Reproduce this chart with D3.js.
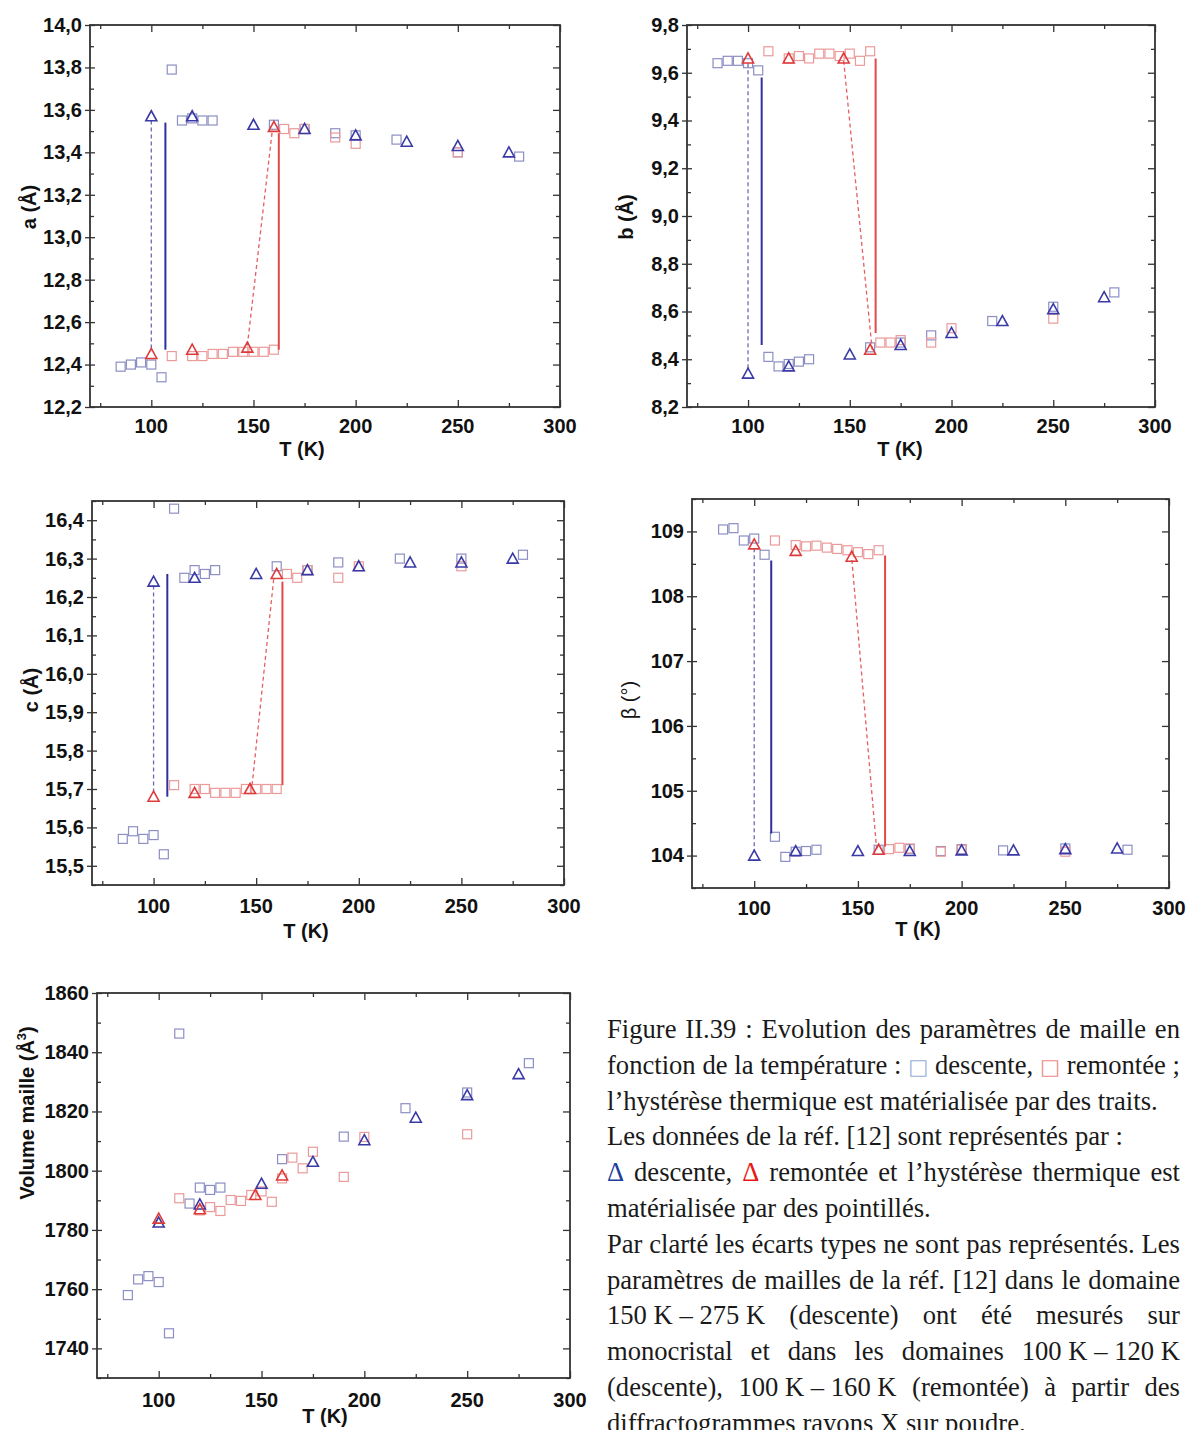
<!DOCTYPE html>
<html><head><meta charset="utf-8">
<script src="https://cdn.jsdelivr.net/npm/d3@7"></script>
<style>body{margin:0;background:#fff}svg{display:block}</style>
</head><body>
<svg id="fig" width="1190" height="1430"></svg>
<script>
// ---------- data ----------
const T_domain = [70, 300];
const xMajorTicks = [100, 150, 200, 250, 300];
const xMinorTicks = [75, 125, 175, 225, 275];

// a (Å)
const a_sq_desc = [[85,12.39],[90,12.40],[95,12.41],[100,12.40],[105,12.34],[110,13.79],[115,13.55],[120,13.56],[125,13.55],[130,13.55],[160,13.53],[175,13.51],[190,13.49],[200,13.48],[220,13.46],[250,13.40],[280,13.38]];
const a_sq_rem  = [[110,12.44],[120,12.44],[125,12.44],[130,12.45],[135,12.45],[140,12.46],[145,12.46],[150,12.46],[155,12.46],[160,12.47],[165,13.51],[170,13.49],[175,13.51],[190,13.47],[200,13.44],[250,13.40]];
const a_tri_desc = [[100,13.57],[120,13.57],[150,13.53],[175,13.51],[200,13.48],[225,13.45],[250,13.43],[275,13.40]];
const a_tri_rem  = [[100,12.45],[120,12.47],[147,12.48],[160,13.52]];
const a_hyst = {blueSolid:[[106.9,13.54],[106.9,12.47]], blueDash:[[100,13.55],[100,12.46]], redSolid:[[162.4,13.49],[162.4,12.47]], redDash:[[147,12.49],[159.3,13.51]]};

// b (Å)
const b_sq_desc = [[85,9.64],[90,9.65],[95,9.65],[100,9.64],[105,9.61],[110,8.41],[115,8.37],[120,8.38],[125,8.39],[130,8.40],[160,8.45],[175,8.47],[190,8.50],[220,8.56],[250,8.62],[280,8.68]];
const b_sq_rem  = [[110,9.69],[120,9.66],[125,9.67],[130,9.66],[135,9.68],[140,9.68],[145,9.67],[150,9.68],[155,9.65],[160,9.69],[165,8.47],[170,8.47],[175,8.48],[190,8.47],[200,8.53],[250,8.57]];
const b_tri_desc = [[100,8.34],[120,8.37],[150,8.42],[175,8.46],[200,8.51],[225,8.56],[250,8.61],[275,8.66]];
const b_tri_rem  = [[100,9.66],[120,9.66],[147,9.66],[160,8.44]];
const b_hyst = {blueSolid:[[106.7,9.58],[106.7,8.46]], blueDash:[[100,9.64],[100,8.35]], redSolid:[[162.7,9.66],[162.7,8.51]], redDash:[[147,9.65],[161,8.44]]};

// c (Å)
const c_sq_desc = [[85,15.57],[90,15.59],[95,15.57],[100,15.58],[105,15.53],[110,16.43],[115,16.25],[120,16.27],[125,16.26],[130,16.27],[160,16.28],[175,16.27],[190,16.29],[220,16.30],[250,16.30],[280,16.31]];
const c_sq_rem  = [[110,15.71],[120,15.70],[125,15.70],[130,15.69],[135,15.69],[140,15.69],[145,15.70],[150,15.70],[155,15.70],[160,15.70],[165,16.26],[170,16.25],[175,16.27],[190,16.25],[200,16.28],[250,16.28]];
const c_tri_desc = [[100,16.24],[120,16.25],[150,16.26],[175,16.27],[200,16.28],[225,16.29],[250,16.29],[275,16.30]];
const c_tri_rem  = [[100,15.68],[120,15.69],[147,15.70],[160,16.26]];
const c_hyst = {blueSolid:[[106.7,16.26],[106.7,15.68]], blueDash:[[100,16.23],[100,15.69]], redSolid:[[162.8,16.24],[162.8,15.71]], redDash:[[148,15.71],[158.6,16.25]]};

// beta (°)
const be_sq_desc = [[85,109.03],[90,109.05],[95,108.86],[100,108.89],[105,108.64],[110,104.29],[115,103.98],[120,104.06],[125,104.07],[130,104.09],[160,104.09],[175,104.10],[190,104.07],[200,104.10],[220,104.08],[250,104.11],[280,104.09]];
const be_sq_rem  = [[110,108.86],[120,108.79],[125,108.77],[130,108.78],[135,108.75],[140,108.73],[145,108.71],[150,108.68],[155,108.65],[160,108.71],[165,104.10],[170,104.12],[175,104.11],[190,104.06],[200,104.09],[250,104.06]];
const be_tri_desc = [[100,104.00],[120,104.07],[150,104.07],[175,104.07],[200,104.08],[225,104.08],[250,104.10],[275,104.11]];
const be_tri_rem  = [[100,108.80],[120,108.70],[147,108.61],[160,104.09]];
const be_hyst = {blueSolid:[[108.2,108.55],[108.2,104.34]], blueDash:[[100,108.74],[100,104.05]], redSolid:[[163.1,108.63],[163.1,104.14]], redDash:[[147.1,108.56],[159,104.11]]};

// Volume (Å3)
const V_sq_desc = [[85,1758.0],[90,1763.3],[95,1764.4],[100,1762.4],[105,1745.1],[110,1846.3],[115,1788.9],[120,1794.3],[125,1793.5],[130,1794.3],[160,1803.9],[190,1811.5],[220,1821.1],[250,1826.4],[280,1836.3]];
const V_sq_rem  = [[110,1790.7],[120,1786.6],[125,1787.7],[130,1786.4],[135,1790.1],[140,1789.8],[145,1791.8],[150,1793.0],[155,1789.5],[160,1797.4],[165,1804.4],[170,1800.8],[175,1806.4],[190,1797.9],[200,1811.4],[250,1812.3]];
const V_tri_desc = [[100,1782.5],[120,1788.6],[150,1795.6],[175,1803.0],[200,1810.3],[225,1817.9],[250,1825.5],[275,1832.6]];
const V_tri_rem  = [[100,1783.8],[120,1787.0],[147,1791.8],[160,1798.4]];

// y ticks
const a_ticks = [12.2,12.4,12.6,12.8,13.0,13.2,13.4,13.6,13.8,14.0];
const b_ticks = [8.2,8.4,8.6,8.8,9.0,9.2,9.4,9.6,9.8];
const c_ticks = [15.5,15.6,15.7,15.8,15.9,16.0,16.1,16.2,16.3,16.4];
const be_ticks = [104,105,106,107,108,109];
const V_ticks = [1740,1760,1780,1800,1820,1840,1860];

// ---------- styles ----------
const COL = {
  sqBlue:'#8c8fc4', sqRed:'#eb9a9a', triBlue:'#3a3aa6', triRed:'#de3a3a',
  lineBlue:'#2f2fa0', lineRed:'#e24a4a', dashBlue:'#6b6bb4', dashRed:'#e46060', axis:'#333'
};
const svg = d3.select('#fig');
const comma = f => (v => f(v).replace('.', ','));

function panel(cfg) {
  const x = d3.scaleLinear().domain(T_domain).range([cfg.l, cfg.r]);
  const y = d3.scaleLinear().domain(cfg.yDomain).range([cfg.b, cfg.t]);
  const g = svg.append('g');
  const yMinor = cfg.yMinor;

  const fmt = cfg.fmt;
  const axL = d3.axisLeft(y).tickValues(cfg.yTicks).tickFormat(fmt).tickSize(5).tickPadding(3);
  const gl = g.append('g').attr('transform', `translate(${cfg.l},0)`).call(axL);
  gl.selectAll('text').attr('font-family','Liberation Sans, Arial, sans-serif').attr('font-weight','bold').attr('font-size',20).attr('fill','#111');
  g.append('g').attr('transform', `translate(${cfg.l},0)`).call(d3.axisRight(y).tickValues(cfg.yTicks).tickSize(5).tickFormat(''));
  g.append('g').attr('transform', `translate(${cfg.l},0)`).call(d3.axisRight(y).tickValues(yMinor).tickSize(4).tickFormat(''));
  g.append('g').attr('transform', `translate(${cfg.r},0)`).call(d3.axisLeft(y).tickValues(cfg.yTicks).tickSize(7).tickFormat(''));
  g.append('g').attr('transform', `translate(${cfg.r},0)`).call(d3.axisLeft(y).tickValues(yMinor).tickSize(4).tickFormat(''));
  g.append('g').attr('transform', `translate(0,${cfg.b})`).call(d3.axisTop(x).tickValues(xMajorTicks).tickSize(7).tickFormat(''));
  g.append('g').attr('transform', `translate(0,${cfg.b})`).call(d3.axisTop(x).tickValues(xMinorTicks).tickSize(4).tickFormat(''));
  g.append('g').attr('transform', `translate(0,${cfg.t})`).call(d3.axisBottom(x).tickValues(xMajorTicks).tickSize(7).tickFormat(''));
  g.append('g').attr('transform', `translate(0,${cfg.t})`).call(d3.axisBottom(x).tickValues(xMinorTicks).tickSize(4).tickFormat(''));
  g.selectAll('.domain').remove();
  g.selectAll('.tick line').attr('stroke', COL.axis).attr('stroke-width', 1.3);

  g.append('g').selectAll('text').data(xMajorTicks).join('text')
    .attr('x', d => x(d)).attr('y', cfg.b + cfg.xLabOff)
    .attr('text-anchor','middle').attr('font-family','Liberation Sans, Arial, sans-serif')
    .attr('font-weight','bold').attr('font-size',20).attr('fill','#111').text(d => d);

  g.append('rect').attr('x', cfg.l).attr('y', cfg.t).attr('width', cfg.r - cfg.l).attr('height', cfg.b - cfg.t)
    .attr('fill','none').attr('stroke', COL.axis).attr('stroke-width', 1.8);

  g.append('text').attr('x', cfg.xt[0]).attr('y', cfg.xt[1]).attr('text-anchor','middle')
    .attr('font-family','Liberation Sans, Arial, sans-serif').attr('font-weight','bold').attr('font-size',20).attr('fill','#111').text('T (K)');
  const yt = g.append('text').attr('transform', `translate(${cfg.yt[0]},${cfg.yt[1]}) rotate(-90)`).attr('text-anchor','middle')
    .attr('font-family','Liberation Sans, Arial, sans-serif').attr('font-weight', cfg.ytWeight || 'bold').attr('font-size',20).attr('fill','#111');
  cfg.ytText(yt);

  const pts = g.append('g');
  const sq = (data, col) => pts.append('g').selectAll('rect').data(data).join('rect')
    .attr('x', d => x(d[0]) - 4.5).attr('y', d => y(d[1]) - 4.5).attr('width', 9).attr('height', 9)
    .attr('fill','none').attr('stroke', col).attr('stroke-width', 1.2);
  const tri = (data, col) => pts.append('g').selectAll('path').data(data).join('path')
    .attr('d', d => { const cx = x(d[0]), cy = y(d[1]); return `M${cx},${cy-5.5}L${cx+5.5},${cy+4.5}L${cx-5.5},${cy+4.5}Z`; })
    .attr('fill','none').attr('stroke', col).attr('stroke-width', 1.6).attr('stroke-linejoin','miter');
  const line = d3.line().x(d => x(d[0])).y(d => y(d[1]));

  sq(cfg.sqDesc, COL.sqBlue);
  sq(cfg.sqRem, COL.sqRed);
  if (cfg.hyst) {
    const h = cfg.hyst;
    pts.append('path').datum(h.blueDash).attr('d', line).attr('stroke', COL.dashBlue).attr('stroke-width', 1.3).attr('stroke-dasharray','4,3').attr('fill','none');
    pts.append('path').datum(h.redDash).attr('d', line).attr('stroke', COL.dashRed).attr('stroke-width', 1.3).attr('stroke-dasharray','4,3').attr('fill','none');
    pts.append('path').datum(h.blueSolid).attr('d', line).attr('stroke', COL.lineBlue).attr('stroke-width', 2).attr('fill','none');
    pts.append('path').datum(h.redSolid).attr('d', line).attr('stroke', COL.lineRed).attr('stroke-width', 2).attr('fill','none');
  }
  tri(cfg.triDesc, COL.triBlue);
  tri(cfg.triRem, COL.triRed);
}

const f1 = comma(d3.format('.1f'));
const f0 = d3.format('d');
const minorBetween = (ticks, extra) => {
  const out = [];
  for (let i = 0; i < ticks.length - 1; i++) out.push(+((ticks[i] + ticks[i+1]) / 2).toFixed(3));
  return out.concat(extra || []);
};

panel({l:90, t:25, r:560, b:407, yDomain:[12.2,14.0], yTicks:a_ticks, yMinor:minorBetween(a_ticks), fmt:f1, xLabOff:26,
  xt:[302,456], yt:[36,207], ytText: t => t.text('a (Å)'),
  sqDesc:a_sq_desc, sqRem:a_sq_rem, triDesc:a_tri_desc, triRem:a_tri_rem, hyst:a_hyst});
panel({l:687, t:25, r:1155, b:407, yDomain:[8.2,9.8], yTicks:b_ticks, yMinor:minorBetween(b_ticks), fmt:f1, xLabOff:26,
  xt:[900,456], yt:[633,217], ytText: t => t.text('b (Å)'),
  sqDesc:b_sq_desc, sqRem:b_sq_rem, triDesc:b_tri_desc, triRem:b_tri_rem, hyst:b_hyst});
panel({l:92, t:501, r:564, b:885, yDomain:[15.45,16.45], yTicks:c_ticks, yMinor:minorBetween(c_ticks,[15.45,16.45]), fmt:f1, xLabOff:28,
  xt:[306,938], yt:[38,690], ytText: t => t.text('c (Å)'),
  sqDesc:c_sq_desc, sqRem:c_sq_rem, triDesc:c_tri_desc, triRem:c_tri_rem, hyst:c_hyst});
panel({l:692, t:499, r:1169, b:888, yDomain:[103.5,109.5], yTicks:be_ticks, yMinor:minorBetween(be_ticks,[103.5,109.5]), fmt:f0, xLabOff:27,
  xt:[918,936], yt:[636,700], ytWeight:'normal', ytText: t => t.text('β (°)'),
  sqDesc:be_sq_desc, sqRem:be_sq_rem, triDesc:be_tri_desc, triRem:be_tri_rem, hyst:be_hyst});
panel({l:97, t:993, r:570, b:1378, yDomain:[1730,1860], yTicks:V_ticks, yMinor:minorBetween(V_ticks,[1730]), fmt:f0, xLabOff:29,
  xt:[325,1423], yt:[34,1113], ytText: t => { t.text('Volume maille (Å'); t.append('tspan').attr('dy',-8).attr('font-size',13).text('3'); t.append('tspan').attr('dy',8).text(')'); },
  sqDesc:V_sq_desc, sqRem:V_sq_rem, triDesc:V_tri_desc, triRem:V_tri_rem});

// ---------- caption ----------
const captionLines = [
  {w:['Figure','II.39',':','Evolution','des','paramètres','de','maille','en'], j:true},
  {w:['fonction','de','la','température',':','#b□','descente,','#r□','remontée',';'], j:true},
  {w:['l’hystérèse','thermique','est','matérialisée','par','des','traits.'], j:false},
  {w:['Les','données','de','la','réf.','[12]','sont','représentés','par',':'], j:false},
  {w:['#BΔ','descente,','#RΔ','remontée','et','l’hystérèse','thermique','est'], j:true},
  {w:['matérialisée','par','des','pointillés.'], j:false},
  {w:['Par','clarté','les','écarts','types','ne','sont','pas','représentés.','Les'], j:true},
  {w:['paramètres','de','mailles','de','la','réf.','[12]','dans','le','domaine'], j:true},
  {w:['150\u00a0K\u00a0–\u00a0275\u00a0K','(descente)','ont','été','mesurés','sur'], j:true},
  {w:['monocristal','et','dans','les','domaines','100\u00a0K\u00a0–\u00a0120\u00a0K'], j:true},
  {w:['(descente),','100\u00a0K\u00a0–\u00a0160\u00a0K','(remontée)','à','partir','des'], j:true},
  {w:['diffractogrammes','rayons','X','sur','poudre.'], j:false}
];
const capColors = {'#b':'#9aaed4', '#r':'#f08a8a', '#B':'#1f3f9f', '#R':'#e81818'};
(function caption(){
  const FS = 26.5, X0 = 607, X1 = 1180, Y0 = 1038, LH = 35.8;
  const cap = svg.append('g').attr('font-family','Liberation Serif, Times New Roman, serif').attr('font-size', FS).attr('fill','#1a1a1a');
  const meas = cap.append('text').attr('x', 0).attr('y', -100);
  const isSym = w => w[0] === '#';
  const plain = w => (isSym(w) ? w.slice(2) : w);
  const wlen = w => {
    meas.text(plain(w));
    if (isSym(w) && (w[1] === 'b' || w[1] === 'r')) meas.attr('font-family','DejaVu Sans, sans-serif').attr('font-size', FS * 0.8);
    else meas.attr('font-family', null).attr('font-size', null);
    return meas.node().getComputedTextLength();
  };
  const space = wlen('a a') - wlen('aa');
  const ref = captionLines[3].w;
  const refW = d3.sum(ref, wlen) + space * (ref.length - 1);
  const sx = 516 / refW;
  const W = (X1 - X0) / sx;
  const lines = captionLines.map(ln => ({ln, widths: ln.w.map(wlen)}));
  meas.remove();
  const inner = cap.append('g').attr('transform', `translate(${X0},0) scale(${sx},1)`);
  lines.forEach(({ln, widths}, i) => {
    const tot = d3.sum(widths);
    const gap = ln.j ? (W - tot) / (ln.w.length - 1) : space;
    let xx = 0;
    ln.w.forEach((w, k) => {
      const t = inner.append('text').attr('x', xx).attr('y', Y0 + i * LH).text(plain(w));
      if (isSym(w)) {
        t.attr('fill', capColors[w.slice(0,2)]);
        if (w[1] === 'b' || w[1] === 'r') t.attr('font-family','DejaVu Sans, sans-serif').attr('font-size', FS * 0.8);
      }
      xx += widths[k] + gap;
    });
  });
})();
</script>
</body></html>
